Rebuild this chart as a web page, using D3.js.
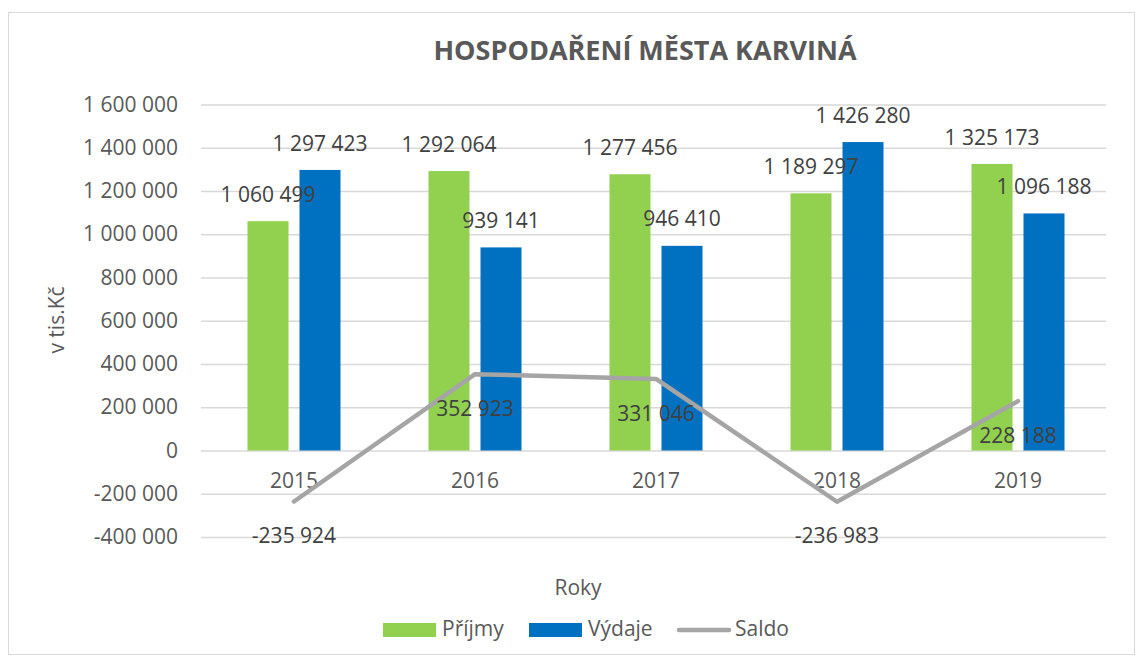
<!DOCTYPE html>
<html>
<head>
<meta charset="utf-8">
<script src="https://cdn.jsdelivr.net/npm/d3@7"></script>
<style>
body {margin:0; background:#fff;}
svg text {font-family: "Open Sans", sans-serif;}
</style>
</head>
<body>
<svg id="chart" width="1143" height="662"></svg>
<script>
var years=['2015','2016','2017','2018','2019'];
var prijmy=[1060499,1292064,1277456,1189297,1325173];
var vydaje=[1297423,939141,946410,1426280,1096188];
var saldo=[-235924,352923,331046,-236983,228188];
var series_names=['Příjmy','Výdaje','Saldo'];
var y_ticks=[-400000,-200000,0,200000,400000,600000,800000,1000000,1200000,1400000,1600000];

var colors={'Příjmy':'#92d050','Výdaje':'#0070c0','Saldo':'#a5a5a5'};

var svg=d3.select('#chart');
var plot={left:201,right:1106,top:104.5,bottom:537};
var fs='21px';

var loc=d3.formatLocale({decimal:',',thousands:'\u00a0',grouping:[3],currency:['',''],minus:'-'});
var fmt=loc.format(',d');

// outer chart border
svg.append('rect')
    .attr('x',8.5).attr('y',12.5)
    .attr('width',1126).attr('height',642)
    .attr('fill','#fff')
    .attr('stroke','#d9d9d9')
    .attr('stroke-width',1);

//bars sit a little right of the gridline start in the original
var xscale=d3.scaleBand().domain(years).range([plot.left+2.5,plot.right+2.5]).paddingInner(0).paddingOuter(0);
var inner=d3.scaleBand().domain(['Příjmy','Výdaje'])
    .range([44,xscale.bandwidth()-44]).paddingInner(11/52).paddingOuter(0);
var yscale=d3.scaleLinear().domain([-400000,1600000]).range([plot.bottom,plot.top]);

// gridlines
var yaxis=d3.axisLeft(yscale).tickValues(y_ticks).tickFormat(fmt)
    .tickSize(-(plot.right-plot.left)).tickPadding(23);
var gy=svg.append('g')
    .attr('transform','translate('+plot.left+',0)')
    .call(yaxis);
gy.select('.domain').remove();
gy.selectAll('.tick line').attr('stroke','#d9d9d9').attr('stroke-width',1.5);
gy.selectAll('.tick text')
    .attr('fill','#595959')
    .style('font-size',fs);

// bars
var bar_data=[];
for (var i=0; i<years.length; i++) {
    bar_data.push({year:years[i],key:'Příjmy',value:prijmy[i]});
    bar_data.push({year:years[i],key:'Výdaje',value:vydaje[i]});
}

svg.append('g').selectAll('rect')
    .data(bar_data)
    .join('rect')
    .attr('x',function(d) {return xscale(d.year)+inner(d.key);})
    .attr('y',function(d) {return yscale(d.value);})
    .attr('width',inner.bandwidth())
    .attr('height',function(d) {return yscale(0)-yscale(d.value);})
    .attr('fill',function(d) {return colors[d.key];});

// category labels
svg.append('g').selectAll('text')
    .data(years)
    .join('text')
    .attr('x',function(d) {return xscale(d)+xscale.bandwidth()/2;})
    .attr('y',yscale(0)+32)
    .attr('text-anchor','middle')
    .attr('dominant-baseline','middle')
    .attr('fill','#595959')
    .style('font-size',fs)
    .text(function(d) {return d;});

// saldo line
var line_data=[];
for (var i=0; i<years.length; i++) {
    line_data.push({year:years[i],value:saldo[i]});
}
var line=d3.line()
    .x(function(d) {return xscale(d.year)+xscale.bandwidth()/2;})
    .y(function(d) {return yscale(d.value);});
svg.append('path')
    .attr('d',line(line_data))
    .attr('fill','none')
    .attr('stroke',colors['Saldo'])
    .attr('stroke-width',4.5)
    .attr('stroke-linecap','round')
    .attr('stroke-linejoin','round');

// data labels
svg.append('g').selectAll('text')
    .data(bar_data)
    .join('text')
    .attr('x',function(d) {return xscale(d.year)+inner(d.key)+inner.bandwidth()/2;})
    .attr('y',function(d) {return yscale(d.value)-25;})
    .attr('text-anchor','middle')
    .attr('dominant-baseline','middle')
    .attr('fill','#404040')
    .style('font-size',fs)
    .text(function(d) {return fmt(d.value);});

svg.append('g').selectAll('text')
    .data(line_data)
    .join('text')
    .attr('x',function(d) {return xscale(d.year)+xscale.bandwidth()/2;})
    .attr('y',function(d) {return yscale(d.value)+36;})
    .attr('text-anchor','middle')
    .attr('dominant-baseline','middle')
    .attr('fill','#404040')
    .style('font-size',fs)
    .text(function(d) {return fmt(d.value);});

// title
svg.append('text')
    .attr('x',645).attr('y',53)
    .attr('text-anchor','middle')
    .attr('dominant-baseline','middle')
    .attr('fill','#595959')
    .style('font-size','27px')
    .style('font-weight','bold')
    .text('HOSPODAŘENÍ MĚSTA KARVINÁ');

// axis titles
svg.append('text')
    .attr('transform','translate(58,320) rotate(-90)')
    .attr('text-anchor','middle')
    .attr('dominant-baseline','middle')
    .attr('fill','#595959')
    .style('font-size',fs)
    .text('v tis.Kč');

svg.append('text')
    .attr('x',578).attr('y',589)
    .attr('text-anchor','middle')
    .attr('dominant-baseline','middle')
    .attr('fill','#595959')
    .style('font-size',fs)
    .text('Roky');

// legend
var legend_x=[383,529,677];
var lg=svg.append('g').selectAll('g')
    .data(series_names)
    .join('g')
    .attr('transform',function(d,i) {return 'translate('+legend_x[i]+',630)';});
lg.each(function(d) {
    var g=d3.select(this);
    if (d=='Saldo') {
        g.append('line')
            .attr('x1',2).attr('x2',52).attr('y1',0).attr('y2',0)
            .attr('stroke',colors[d]).attr('stroke-width',4.5)
            .attr('stroke-linecap','round');
    }
    else {
        g.append('rect')
            .attr('x',0).attr('y',-7).attr('width',53).attr('height',14)
            .attr('fill',colors[d]);
    }
    g.append('text')
        .attr('x',d=='Saldo' ? 58 : 59)
        .attr('y',0)
        .attr('dominant-baseline','middle')
        .attr('fill','#595959')
        .style('font-size',fs)
        .text(d);
});
</script>
</body>
</html>
